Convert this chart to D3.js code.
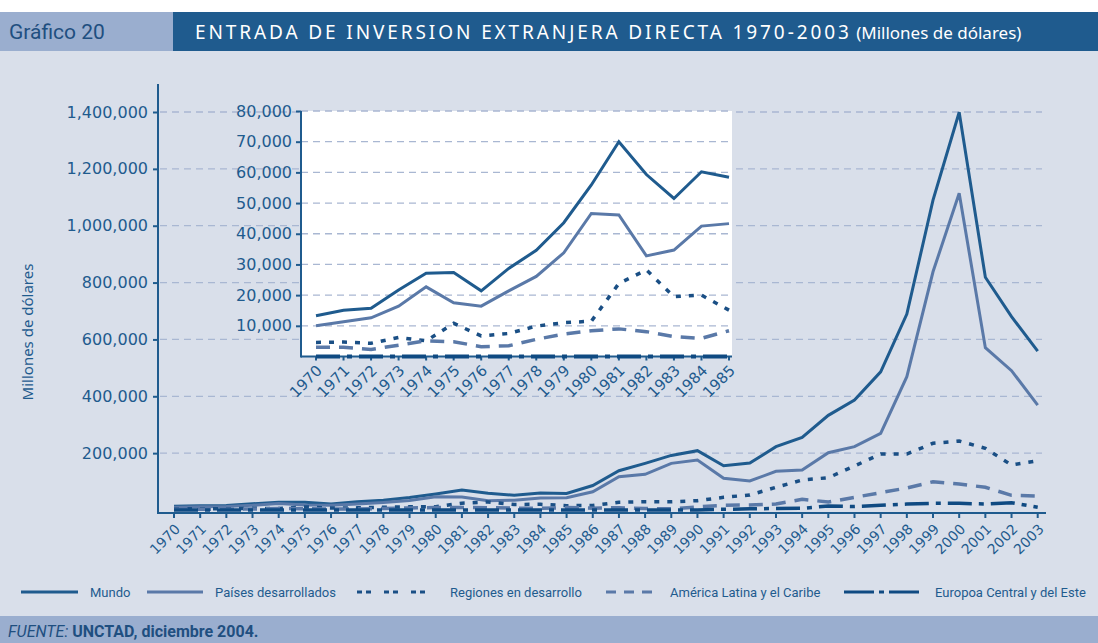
<!DOCTYPE html>
<html>
<head>
<meta charset="utf-8">
<script src="https://cdn.jsdelivr.net/npm/d3@7"></script>
<style>
  body { margin: 0; background: #d9dfea; }
  svg { display: block; }
  .tick-lbl { font-family: "DejaVu Sans", sans-serif; fill: #1f5b8e; }
  .leg { font-family: "Liberation Sans Narrow", "Roboto", sans-serif; font-size: 13px; fill: #1f5b8e; }
</style>
</head>
<body>
<div id="chart"></div>
<script>
// Entrada de inversion extranjera directa, millones de dolares
const years = d3.range(1970, 2004);
const mundo = [13300, 15100, 15700, 21700, 27100, 27400, 21400, 28700, 34600, 43600, 55900, 70000, 59300, 51500, 60200, 58400,
    86000, 138000, 164000, 192000, 208600, 155800, 165000, 222700, 255600, 333000, 387000, 486000, 689000, 1090000, 1399000, 818500, 680000, 559000];
const desarrollados = [10000, 11300, 12600, 16400, 22700, 17500, 16400, 21400, 26100, 33800, 46600, 46100, 32800, 34700, 42500, 43300,
    64000, 117000, 125600, 164000, 176000, 111500, 102000, 136000, 140700, 201600, 222700, 269800, 469000, 838000, 1114000, 571000, 490000, 369000];
const enDesarrollo = [4600, 4700, 4300, 6200, 5100, 10800, 6700, 7500, 9900, 11000, 11500, 23800, 28200, 19500, 20000, 15100,
    16000, 27000, 29000, 29000, 32700, 44600, 52800, 79800, 105500, 113600, 154800, 197000, 197000, 234600, 242700, 217000, 158300, 173400];
const latam = [3000, 3000, 2300, 3700, 5100, 4800, 3200, 3500, 5600, 7300, 8400, 9000, 8100, 6500, 5900, 8400,
    6500, 8000, 5300, 4000, 11000, 16500, 17600, 21100, 37600, 28100, 44600, 61000, 77400, 99600, 91500, 79800, 51700, 49200];
const europa = [0, 0, 0, 0, 0, 0, 0, 0, 0, 0, 0, 0, 0, 0, 0, 0,
    0, 0, 0, 0, 0, 2500, 4000, 5500, 5900, 14000, 12000, 16500, 21000, 23500, 23500, 21000, 25700, 9500];

const mainTicks = [200000, 400000, 600000, 800000, 1000000, 1200000, 1400000];
const insetTicks = [10000, 20000, 30000, 40000, 50000, 60000, 70000, 80000];
const insetEnd = 1985;

const series = [
    {name: "Mundo", values: mundo, color: "#1f5b8e", width: 3, dash: null, legDash: null},
    {name: "Países desarrollados", values: desarrollados, color: "#5a79a8", width: 3, dash: null, legDash: null},
    {name: "Regiones en desarrollo", values: enDesarrollo, color: "#1a4f85", width: 3.5, dash: "5,8", legDash: "5,4,5,13"},
    {name: "América Latina y el Caribe", values: latam, color: "#5a79a8", width: 3.5, dash: "14,9", legDash: "10,8"},
    {name: "Europoa Central y del Este", values: europa, color: "#0f4a82", width: 3.5, dash: "24,7,5,7", legDash: "30,5,5,5"}
];

const W = 1098, H = 643;
const BLUE = "#1f5b8e", GRID = "#a9b7d2";

let svg = d3.select("#chart").append("svg")
    .attr("width", W)
    .attr("height", H);

svg.append("rect").attr("width", W).attr("height", H).attr("fill", "#d9dfea");
svg.append("rect").attr("width", W).attr("height", 12).attr("fill", "#ffffff");

// header
svg.append("rect").attr("x", 0).attr("y", 12).attr("width", 173).attr("height", 39).attr("fill", "#9aaecf");
svg.append("rect").attr("x", 173).attr("y", 12).attr("width", W - 173).attr("height", 39).attr("fill", BLUE);
svg.append("text").attr("x", 9).attr("y", 39)
    .style("font-family", "Roboto, sans-serif").style("font-size", "21px")
    .attr("fill", "#1f4f80").text("Gráfico 20");
let title = svg.append("text").attr("x", 195).attr("y", 39)
    .style("font-family", "'Noto Sans', sans-serif").attr("fill", "#ffffff");
title.append("tspan").style("font-size", "19px").style("letter-spacing", "2.9px")
    .text("ENTRADA DE INVERSION EXTRANJERA DIRECTA 1970-2003");
title.append("tspan").style("font-size", "17px").text(" (Millones de dólares)");

// main scales
let x = d3.scaleLinear().domain([1970, 2003]).range([174, 1037.7]);
let y = d3.scaleLinear().domain([0, 1400000]).range([510, 112]);
const axisY = 513, axisX = 158;

// gridlines
svg.append("g").selectAll("line").data(mainTicks).enter().append("line")
    .attr("x1", axisX + 2).attr("x2", 1042)
    .attr("y1", d => y(d)).attr("y2", d => y(d))
    .attr("stroke", GRID).attr("stroke-width", 1.3).attr("stroke-dasharray", "7,5");

// y axis
let yAxis = svg.append("g").attr("transform", `translate(${axisX},0)`)
    .call(d3.axisLeft(y).tickValues(mainTicks).tickSize(5).tickFormat(d3.format(",")));
yAxis.select(".domain").remove();
yAxis.selectAll("line").attr("stroke", BLUE).attr("stroke-width", 2);
yAxis.selectAll("text").attr("class", "tick-lbl").style("font-size", "16px").attr("x", -10);
svg.append("line").attr("x1", axisX).attr("x2", axisX).attr("y1", 84).attr("y2", axisY + 1)
    .attr("stroke", BLUE).attr("stroke-width", 2);

// x axis
svg.append("line").attr("x1", axisX - 1).attr("x2", 1046).attr("y1", axisY).attr("y2", axisY)
    .attr("stroke", BLUE).attr("stroke-width", 2);
svg.append("g").selectAll("line").data(years).enter().append("line")
    .attr("x1", d => x(d)).attr("x2", d => x(d))
    .attr("y1", axisY).attr("y2", axisY + 5)
    .attr("stroke", BLUE).attr("stroke-width", 2);
svg.append("g").selectAll("text").data(years).enter().append("text")
    .attr("class", "tick-lbl").style("font-size", "14px")
    .attr("text-anchor", "end")
    .attr("transform", d => `translate(${x(d) + 7},${axisY + 17}) rotate(-45)`)
    .text(d => d);

svg.append("text").attr("class", "tick-lbl").style("font-size", "15px")
    .style("font-family", "'Noto Sans', sans-serif")
    .attr("text-anchor", "middle")
    .attr("transform", "translate(33,332) rotate(-90)")
    .text("Millones de dólares");

// lines
let line = d3.line().x((d, i) => x(years[i])).y(d => y(d));
series.forEach(s => {
    svg.append("path").datum(s.values)
        .attr("d", line)
        .attr("fill", "none")
        .attr("stroke", s.color)
        .attr("stroke-width", s.width)
        .attr("stroke-dasharray", s.dash);
});

// inset 1970-1985
let insetYears = years.filter(d => d <= insetEnd);
let xi = d3.scaleLinear().domain([1970, insetEnd]).range([316, 729]);
let yi = d3.scaleLinear().domain([0, 80000]).range([356.5, 111]);
const iLeft = 301, iRight = 732;

let inset = svg.append("g");
inset.append("rect").attr("x", iLeft).attr("y", yi(80000))
    .attr("width", iRight - iLeft).attr("height", yi(0) - yi(80000)).attr("fill", "#ffffff");
inset.append("g").selectAll("line").data(insetTicks).enter().append("line")
    .attr("x1", iLeft).attr("x2", iRight)
    .attr("y1", d => yi(d)).attr("y2", d => yi(d))
    .attr("stroke", GRID).attr("stroke-width", 1.3).attr("stroke-dasharray", "7,5");

let yiAxis = inset.append("g").attr("transform", `translate(${iLeft},0)`)
    .call(d3.axisLeft(yi).tickValues(insetTicks).tickSize(5).tickFormat(d3.format(",")));
yiAxis.select(".domain").remove();
yiAxis.selectAll("line").attr("stroke", BLUE).attr("stroke-width", 2);
yiAxis.selectAll("text").attr("class", "tick-lbl").style("font-size", "16px").attr("x", -9);
inset.append("line").attr("x1", iLeft).attr("x2", iLeft).attr("y1", yi(80000)).attr("y2", yi(0) + 1)
    .attr("stroke", BLUE).attr("stroke-width", 2);
inset.append("line").attr("x1", iLeft).attr("x2", iRight).attr("y1", yi(0)).attr("y2", yi(0))
    .attr("stroke", BLUE).attr("stroke-width", 2);
inset.append("g").selectAll("line").data(insetYears).enter().append("line")
    .attr("x1", d => xi(d)).attr("x2", d => xi(d))
    .attr("y1", yi(0)).attr("y2", yi(0) + 4)
    .attr("stroke", BLUE).attr("stroke-width", 2);
inset.append("g").selectAll("text").data(insetYears).enter().append("text")
    .attr("class", "tick-lbl").style("font-size", "15px")
    .attr("text-anchor", "end")
    .attr("transform", d => `translate(${xi(d) + 7},${yi(0) + 15}) rotate(-45)`)
    .text(d => d);

let lineI = d3.line().x((d, i) => xi(insetYears[i])).y(d => yi(d));
series.forEach(s => {
    inset.append("path").datum(s.values.slice(0, insetYears.length))
        .attr("d", lineI)
        .attr("fill", "none")
        .attr("stroke", s.color)
        .attr("stroke-width", s.name.startsWith("Europ") ? 4 : s.width)
        .attr("stroke-dasharray", s.dash);
});

// legend
const legX = [21, 147, 357, 606, 844];
const legLen = [57, 56, 81, 52, 79];
let leg = svg.append("g");
series.forEach((s, i) => {
    leg.append("line").attr("x1", legX[i]).attr("x2", legX[i] + legLen[i])
        .attr("y1", 592).attr("y2", 592)
        .attr("stroke", s.color).attr("stroke-width", 3)
        .attr("stroke-dasharray", s.legDash);
    leg.append("text").attr("class", "leg")
        .attr("x", legX[i] + legLen[i] + 12).attr("y", 597)
        .text(s.name);
});

// footer
svg.append("rect").attr("x", 0).attr("y", 616).attr("width", W).attr("height", H - 616).attr("fill", "#9aaecf");
let foot = svg.append("text").attr("x", 8).attr("y", 637)
    .style("font-family", "Roboto, sans-serif").style("font-size", "16px")
    .attr("fill", "#1f4f80");
foot.append("tspan").style("font-style", "italic").text("FUENTE: ");
foot.append("tspan").style("font-weight", "bold").text("UNCTAD, diciembre 2004.");
</script>
</body>
</html>
